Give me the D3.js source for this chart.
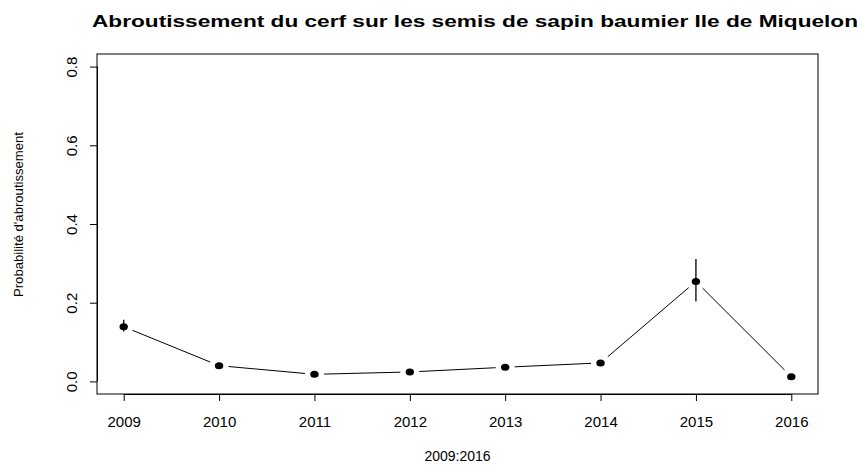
<!DOCTYPE html>
<html>
<head>
<meta charset="utf-8">
<script src="https://cdnjs.cloudflare.com/ajax/libs/d3/7.8.5/d3.min.js"></script>
<style>
  body { margin: 0; background: #fff; }
  svg { display: block; }
  text { font-family: "Liberation Sans", Arial, sans-serif; fill: #000; }
</style>
</head>
<body>
<svg id="chart"></svg>
<script>
// Values
const years = [2009, 2010, 2011, 2012, 2013, 2014, 2015, 2016];
const prob  = [0.139, 0.040, 0.018, 0.024, 0.036, 0.047, 0.254, 0.012];
const lower = [0.127, 0.035, 0.013, 0.019, 0.032, 0.041, 0.203, 0.009];
const upper = [0.157, 0.046, 0.022, 0.029, 0.040, 0.053, 0.311, 0.015];
const yTicks = [0.0, 0.2, 0.4, 0.6, 0.8];

const W = 862, H = 466;
const box = {left: 97, right: 818, top: 54, bottom: 394};

const svg = d3.select("#chart")
    .attr("width", W)
    .attr("height", H);

// R-style 4% padding around the data range
const x = d3.scaleLinear()
    .domain([2009 - 0.28, 2016 + 0.28])
    .range([box.left, box.right]);

const y = d3.scaleLinear()
    .domain([-0.032, 0.832])
    .range([box.bottom, box.top]);

const data = years.map((yr, i) => ({year: yr, p: prob[i], lo: lower[i], hi: upper[i]}));

// Plot box
svg.append("rect")
    .attr("x", box.left)
    .attr("y", box.top)
    .attr("width", box.right - box.left)
    .attr("height", box.bottom - box.top)
    .attr("fill", "none")
    .attr("stroke", "#000")
    .attr("stroke-width", 1);

// Axes
const xAxis = d3.axisBottom(x)
    .tickValues(years)
    .tickFormat(d3.format("d"))
    .tickSizeOuter(0)
    .tickSizeInner(7)
    .tickPadding(15);

const gx = svg.append("g")
    .attr("transform", `translate(0,${box.bottom})`)
    .call(xAxis);
gx.select(".domain")
    .attr("d", `M${x(2009)},0.5H${x(2016)}`);
gx.selectAll("text")
    .style("font-size", "15px")
    .style("font-family", "Liberation Sans, Arial, sans-serif");

const yAxis = d3.axisLeft(y)
    .tickValues(yTicks)
    .tickFormat(d3.format(".1f"))
    .tickSizeOuter(0)
    .tickSizeInner(7);

const gy = svg.append("g")
    .attr("transform", `translate(${box.left},0)`)
    .call(yAxis);
gy.select(".domain")
    .attr("d", `M0.5,${y(0)}V${y(0.8)}`);
gy.selectAll(".tick text")
    .attr("x", null)
    .attr("dy", null)
    .attr("text-anchor", "middle")
    .attr("transform", "translate(-20,0) rotate(-90)")
    .style("font-size", "15px")
    .style("font-family", "Liberation Sans, Arial, sans-serif");

// Connecting lines with gaps around points (type = "b")
const gap = 9.5;
for (let i = 0; i < data.length - 1; i++) {
    const x1 = x(data[i].year), y1 = y(data[i].p);
    const x2 = x(data[i + 1].year), y2 = y(data[i + 1].p);
    const len = Math.hypot(x2 - x1, y2 - y1);
    const ux = (x2 - x1) / len, uy = (y2 - y1) / len;
    svg.append("line")
        .attr("x1", x1 + ux * gap)
        .attr("y1", y1 + uy * gap)
        .attr("x2", x2 - ux * gap)
        .attr("y2", y2 - uy * gap)
        .attr("stroke", "#000")
        .attr("stroke-width", 1);
}

// Error bars
svg.selectAll(".err")
    .data(data)
    .enter()
    .append("line")
    .attr("class", "err")
    .attr("x1", d => x(d.year))
    .attr("x2", d => x(d.year))
    .attr("y1", d => y(d.lo))
    .attr("y2", d => y(d.hi))
    .attr("stroke", "#000")
    .attr("stroke-width", 1.3);

// Points
svg.selectAll(".pt")
    .data(data)
    .enter()
    .append("ellipse")
    .attr("class", "pt")
    .attr("cx", d => x(d.year))
    .attr("cy", d => y(d.p))
    .attr("rx", 4.2)
    .attr("ry", 3.5)
    .attr("fill", "#000");

// Title
svg.append("text")
    .attr("x", 475)
    .attr("y", 27)
    .attr("text-anchor", "middle")
    .attr("textLength", 766)
    .attr("lengthAdjust", "spacingAndGlyphs")
    .style("font-size", "17px")
    .style("font-weight", "bold")
    .text("Abroutissement du cerf sur les semis de sapin baumier Ile de Miquelon");

// Axis labels
svg.append("text")
    .attr("x", (box.left + box.right) / 2)
    .attr("y", 461)
    .attr("text-anchor", "middle")
    .style("font-size", "14px")
    .text("2009:2016");

svg.append("text")
    .attr("transform", `translate(23,${(132 + 297) / 2}) rotate(-90)`)
    .attr("text-anchor", "middle")
    .attr("textLength", 165)
    .attr("lengthAdjust", "spacingAndGlyphs")
    .style("font-size", "13px")
    .text("Probabilité d'abroutissement");
</script>
</body>
</html>
